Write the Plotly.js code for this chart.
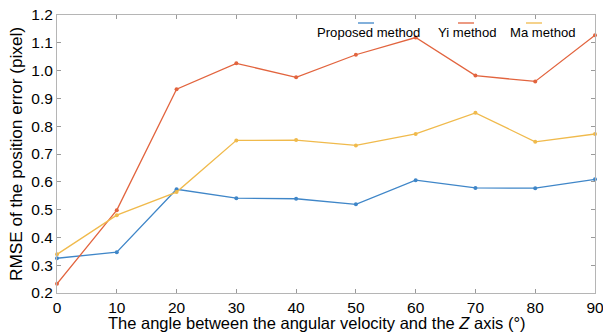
<!DOCTYPE html>
<html>
<head>
<meta charset="utf-8">
<script src="https://cdn.plot.ly/plotly-3.0.1.min.js"></script>
<style>html,body{margin:0;padding:0;background:#fff;}#chart{width:603px;height:333px;}</style>
</head>
<body>
<div id="chart"></div>
<script>
var angles = [0, 10, 20, 30, 40, 50, 60, 70, 80, 90];
var proposed = [0.325, 0.347, 0.573, 0.541, 0.539, 0.519, 0.606, 0.578, 0.577, 0.609];
var yiMethod = [0.233, 0.498, 0.933, 1.026, 0.976, 1.057, 1.119, 0.982, 0.961, 1.127];
var maMethod = [0.339, 0.480, 0.563, 0.749, 0.750, 0.731, 0.772, 0.848, 0.744, 0.772];
var seriesNames = ["Proposed method", "Yi method", "Ma method"];
var seriesColors = ["#3f86c8", "#e2643e", "#f0ba4c"];
var seriesValues = [proposed, yiMethod, maMethod];
var yTicks = [0.2, 0.3, 0.4, 0.5, 0.6, 0.7, 0.8, 0.9, 1.0, 1.1, 1.2];
var xTitle = "The angle between the angular velocity and the <i>Z</i> axis (°)";

var traces = seriesValues.map(function (vals, i) {
  return {
    x: angles, y: vals, name: seriesNames[i], type: "scatter", mode: "lines+markers",
    line: {color: seriesColors[i], width: 1.3},
    marker: {color: seriesColors[i], size: 4},
    showlegend: false, cliponaxis: false
  };
});

// plot area: x 57..595, y 15..293
var PL = 57, PW = 538, PB = 293, PH = 278;
var annotations = [];
var shapes = [];
// custom MATLAB-like legend: short sample above each label
var legendX = [368.5, 467, 543];
var sampleX = [366, 466, 534];
seriesNames.forEach(function (n, i) {
  annotations.push({
    xref: "paper", yref: "paper", x: (legendX[i] - PL) / PW, y: (PB - 32.5) / PH,
    text: n, showarrow: false, xanchor: "center", yanchor: "middle",
    font: {family: "Liberation Sans, Arial, sans-serif", size: 13.1, color: "#000"}
  });
  shapes.push({
    type: "line", xref: "paper", yref: "paper",
    x0: (sampleX[i] - 8 - PL) / PW, x1: (sampleX[i] + 8 - PL) / PW,
    y0: (PB - 23) / PH, y1: (PB - 23) / PH,
    line: {color: seriesColors[i], width: 1.3}
  });
});
// x axis title
annotations.push({
  xref: "paper", yref: "paper", x: (316.5 - PL) / PW, y: (PB - 323) / PH,
  text: xTitle, showarrow: false, xanchor: "center", yanchor: "middle",
  font: {family: "Liberation Sans, Arial, sans-serif", size: 16.5, color: "#000"}
});

var layout = {
  width: 603, height: 333,
  margin: {l: 57, r: 8, t: 15, b: 40},
  paper_bgcolor: "#fff", plot_bgcolor: "#fff",
  font: {family: "Liberation Sans, Arial, sans-serif", color: "#000"},
  xaxis: {
    range: [0, 90], tickvals: angles, ticks: "inside", ticklen: 4, tickcolor: "#9a9a9a",
    showline: true, linecolor: "#b5b5b5", linewidth: 1, mirror: "ticks",
    showgrid: false, zeroline: false, tickfont: {size: 15.5}, ticklabeloverflow: "allow"
  },
  yaxis: {
    range: [0.2, 1.2], tickvals: yTicks, tickformat: ".1f", ticks: "inside", ticklen: 4, tickcolor: "#9a9a9a",
    showline: true, linecolor: "#b5b5b5", linewidth: 1, mirror: "ticks",
    showgrid: false, zeroline: false, tickfont: {size: 15.5}, ticklabeloverflow: "allow",
    title: {text: "RMSE of the position error (pixel)", font: {size: 17.2}, standoff: 4}
  },
  annotations: annotations,
  shapes: shapes
};
Plotly.newPlot("chart", traces, layout, {displayModeBar: false, staticPlot: true});
</script>
</body>
</html>
